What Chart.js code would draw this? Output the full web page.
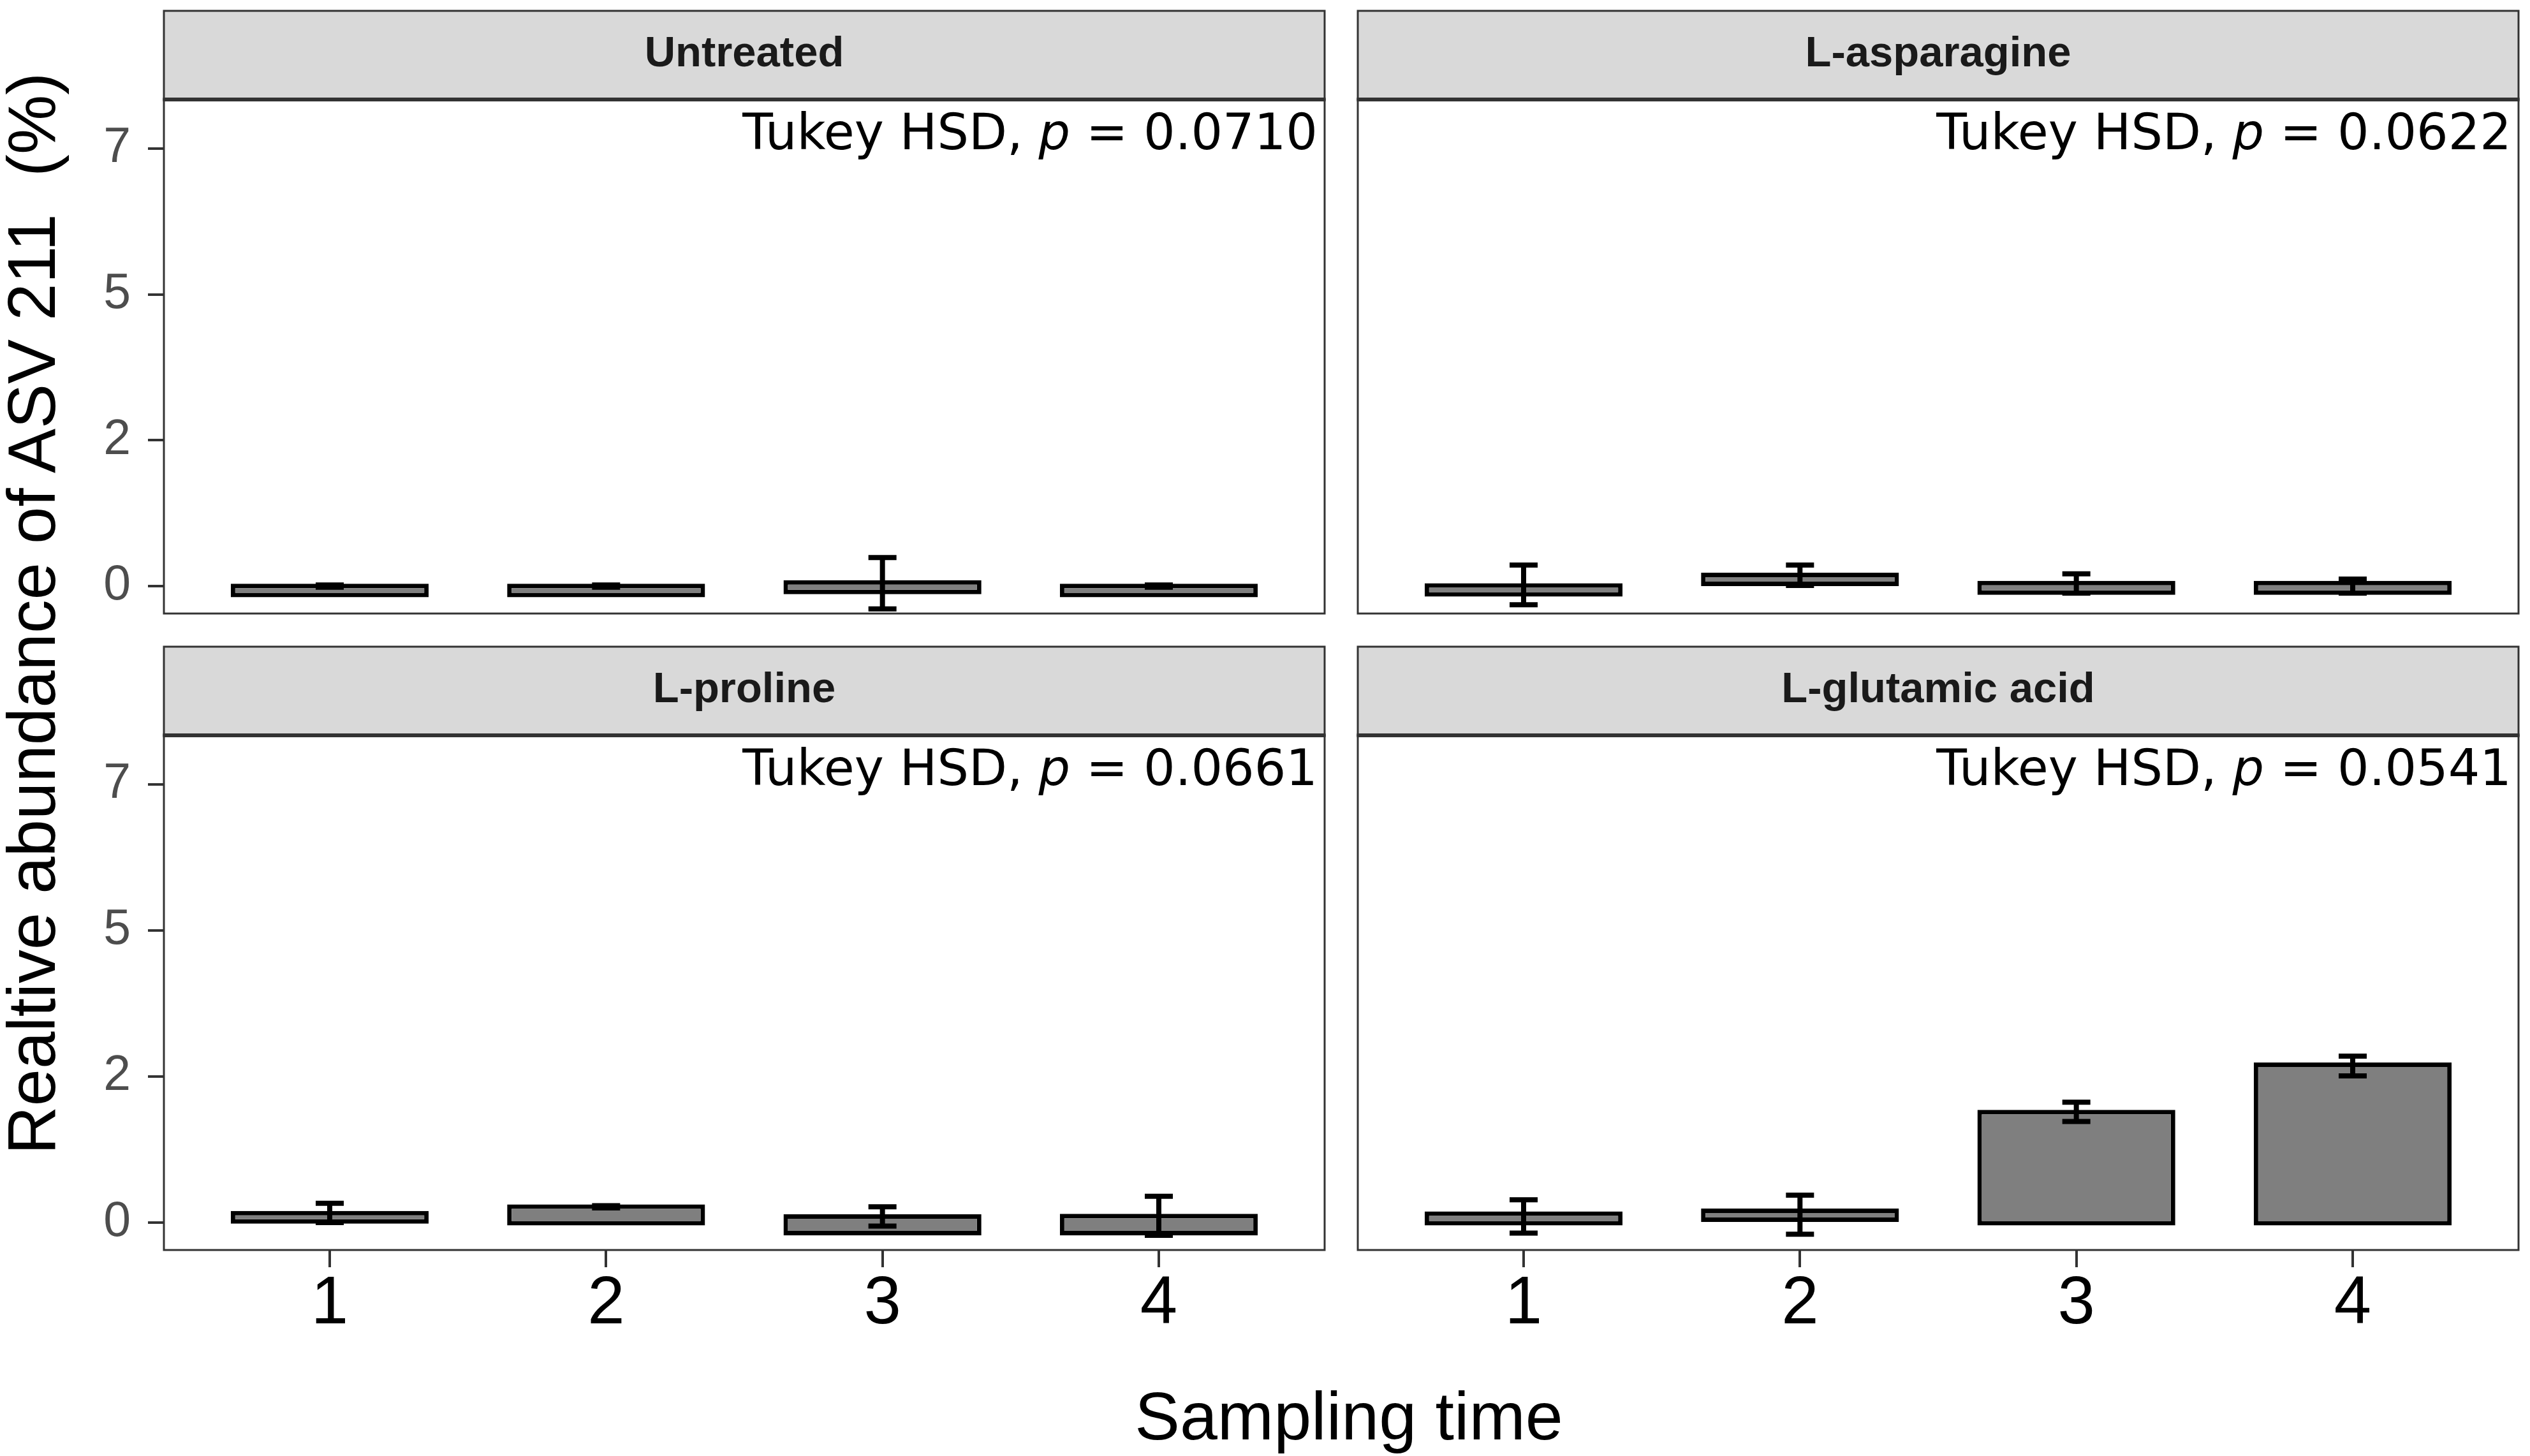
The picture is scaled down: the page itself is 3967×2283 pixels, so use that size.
<!DOCTYPE html>
<html>
<head>
<meta charset="utf-8">
<title>Relative abundance of ASV 211</title>
<script src="https://cdn.jsdelivr.net/npm/chart.js@4.4.1/dist/chart.umd.min.js"></script>
<style>
  html, body { margin: 0; padding: 0; background: #fff; }
  #figure { position: relative; width: 3967px; height: 2283px; background: #fff; overflow: hidden;
            font-family: 'Liberation Sans', Arial, sans-serif; color: #000; }
  #figure canvas { position: absolute; }
  #y-title { position: absolute; left: 49px; top: 962px; transform: translate(-50%, -50%) rotate(-90deg);
             font-size: 105px; line-height: 1; white-space: pre; }
  #x-title { position: absolute; left: 2115px; top: 2167px; transform: translateX(-50%);
             font-size: 106px; line-height: 1; white-space: pre; }
</style>
</head>
<body>
<div id="figure">
  <div id="y-title">Realtive abundance of ASV 211  (%)</div>
  <div id="x-title">Sampling time</div>
</div>
<script>
'use strict';

// Sampling times on the x axis
const times = [1, 2, 3, 4];

// The y ticks sit at 0, 2.5, 5 and 7.5, the figure prints them rounded down
const yTickValues = [0, 2.5, 5, 7.5];
const yTickLabels = ['0', '2', '5', '7'];

// Facet names and their Tukey HSD p values
const treatments = ['Untreated', 'L-asparagine', 'L-proline', 'L-glutamic acid'];
const pValues = ['0.0710', '0.0622', '0.0661', '0.0541'];

// Bars float in the original: lower and upper edge of every bar (%)
const untreatedLow = [-0.19, -0.19, -0.14, -0.19];
const untreatedHigh = [0.04, 0.04, 0.10, 0.04];
const asparagineLow = [-0.18, 0.00, -0.15, -0.15];
const asparagineHigh = [0.05, 0.23, 0.09, 0.09];
const prolineLow = [-0.02, -0.05, -0.22, -0.22];
const prolineHigh = [0.20, 0.31, 0.14, 0.15];
const glutamicLow = [-0.05, 0.01, -0.05, -0.05];
const glutamicHigh = [0.19, 0.24, 1.93, 2.74];

// Error bar ends (%)
const untreatedErrLow = [-0.02, -0.02, -0.39, -0.02];
const untreatedErrHigh = [0.02, 0.02, 0.49, 0.02];
const asparagineErrLow = [-0.32, 0.01, -0.12, -0.12];
const asparagineErrHigh = [0.36, 0.36, 0.21, 0.12];
const prolineErrLow = [0.00, 0.25, -0.06, -0.22];
const prolineErrHigh = [0.33, 0.29, 0.27, 0.45];
const glutamicErrLow = [-0.18, -0.20, 1.73, 2.51];
const glutamicErrHigh = [0.39, 0.47, 2.06, 2.85];

const barLows = [untreatedLow, asparagineLow, prolineLow, glutamicLow];
const barHighs = [untreatedHigh, asparagineHigh, prolineHigh, glutamicHigh];
const errLows = [untreatedErrLow, asparagineErrLow, prolineErrLow, glutamicErrLow];
const errHighs = [untreatedErrHigh, asparagineErrHigh, prolineErrHigh, glutamicErrHigh];

const FONT = "'Liberation Sans', Arial, sans-serif";
const STRIP_HEIGHT = 139;

// Where each facet canvas goes on the page (top row has no x axis, right column no y axis)
const panelBoxes = [
    {left: 0,    top: 0,   width: 2090, height: 975,  padding: {left: 0,  top: 156, right: 13, bottom: 13}, yAxis: true,  xAxis: false},
    {left: 2116, top: 0,   width: 1851, height: 975,  padding: {left: 13, top: 156, right: 18, bottom: 13}, yAxis: false, xAxis: false},
    {left: 0,    top: 997, width: 2090, height: 1286, padding: {left: 0,  top: 156, right: 13, bottom: 0},  yAxis: true,  xAxis: true},
    {left: 2116, top: 997, width: 1851, height: 1286, padding: {left: 13, top: 156, right: 18, bottom: 0},  yAxis: false, xAxis: true}
];

// Draws the error bars, the panel border, the grey strip and the p value note
function facetPlugin(index) {
    return {
        id: 'facet' + index,
        afterDatasetsDraw(chart) {
            const ctx = chart.ctx;
            const xScale = chart.scales.x;
            const yScale = chart.scales.y;
            ctx.save();
            ctx.strokeStyle = '#000';
            ctx.lineWidth = 8;
            ctx.lineCap = 'butt';
            times.forEach((t, j) => {
                const x = xScale.getPixelForValue(t);
                const yLo = yScale.getPixelForValue(errLows[index][j]);
                const yHi = yScale.getPixelForValue(errHighs[index][j]);
                ctx.beginPath();
                ctx.moveTo(x, yLo);
                ctx.lineTo(x, yHi);
                ctx.moveTo(x - 22, yLo);
                ctx.lineTo(x + 22, yLo);
                ctx.moveTo(x - 22, yHi);
                ctx.lineTo(x + 22, yHi);
                ctx.stroke();
            });
            ctx.restore();
        },
        afterDraw(chart) {
            const ctx = chart.ctx;
            const area = chart.chartArea;
            const stripTop = area.top - STRIP_HEIGHT;
            ctx.save();

            // panel border
            ctx.strokeStyle = '#333333';
            ctx.lineWidth = 3;
            ctx.strokeRect(area.left, area.top, area.right - area.left, area.bottom - area.top);

            // strip
            ctx.fillStyle = '#d9d9d9';
            ctx.fillRect(area.left, stripTop, area.right - area.left, STRIP_HEIGHT);
            ctx.strokeRect(area.left, stripTop, area.right - area.left, STRIP_HEIGHT);
            ctx.lineWidth = 6;
            ctx.beginPath();
            ctx.moveTo(area.left - 1.5, area.top);
            ctx.lineTo(area.right + 1.5, area.top);
            ctx.stroke();

            ctx.fillStyle = '#1a1a1a';
            ctx.font = 'bold 67px ' + FONT;
            ctx.textAlign = 'center';
            ctx.textBaseline = 'alphabetic';
            ctx.fillText(treatments[index], (area.left + area.right) / 2, stripTop + 87);

            // Tukey HSD note, right aligned, with an italic p
            const pre = 'Tukey HSD, ';
            const post = ' = ' + pValues[index];
            const plain = "78px 'DejaVu Sans', sans-serif";
            const italic = "italic 78px 'DejaVu Sans', sans-serif";
            ctx.font = plain;
            const wPre = ctx.measureText(pre).width;
            const wPost = ctx.measureText(post).width;
            ctx.font = italic;
            const wP = ctx.measureText('p').width;
            let x = area.right - 11 - (wPre + wP + wPost);
            const base = area.top + 78;
            ctx.fillStyle = '#000';
            ctx.textAlign = 'left';
            ctx.font = plain;
            ctx.fillText(pre, x, base);
            x += wPre;
            ctx.font = italic;
            ctx.fillText('p', x, base);
            x += wP;
            ctx.font = plain;
            ctx.fillText(post, x, base);
            ctx.restore();
        }
    };
}

function buildChart(index) {
    const box = panelBoxes[index];
    const canvas = document.createElement('canvas');
    canvas.width = box.width;
    canvas.height = box.height;
    canvas.style.left = box.left + 'px';
    canvas.style.top = box.top + 'px';
    canvas.style.width = box.width + 'px';
    canvas.style.height = box.height + 'px';
    document.getElementById('figure').appendChild(canvas);

    const points = times.map((t, j) => ({x: t, y: [barLows[index][j], barHighs[index][j]]}));

    return new Chart(canvas.getContext('2d'), {
        type: 'bar',
        data: {
            datasets: [{
                data: points,
                backgroundColor: '#7f7f7f',
                borderColor: '#000000',
                borderWidth: 7,
                borderSkipped: false,
                barPercentage: 0.716,
                categoryPercentage: 1.0
            }]
        },
        options: {
            responsive: false,
            maintainAspectRatio: false,
            animation: false,
            layout: {padding: box.padding},
            plugins: {
                legend: {display: false},
                tooltip: {enabled: false},
                title: {display: false}
            },
            scales: {
                x: {
                    type: 'linear',
                    min: 0.4,
                    max: 4.6,
                    offset: false,
                    display: box.xAxis,
                    afterBuildTicks: (axis) => { axis.ticks = times.map(v => ({value: v})); },
                    afterFit: (scale) => {
                        scale.height = box.xAxis ? 323 : 0;
                        scale.paddingLeft = 0;
                        scale.paddingRight = 0;
                    },
                    ticks: {
                        autoSkip: false,
                        maxRotation: 0,
                        padding: 1,
                        color: '#000',
                        font: {family: FONT, size: 105, lineHeight: 1.1},
                        callback: (v) => String(v)
                    },
                    grid: {offset: false, drawOnChartArea: false, drawTicks: true, tickLength: 27, color: '#333333', lineWidth: 4},
                    border: {display: false}
                },
                y: {
                    min: -0.47,
                    max: 8.34,
                    display: box.yAxis,
                    afterBuildTicks: (axis) => { axis.ticks = yTickValues.map(v => ({value: v})); },
                    afterFit: (scale) => {
                        scale.width = box.yAxis ? 257 : 0;
                        scale.paddingTop = 0;
                        scale.paddingBottom = 0;
                    },
                    ticks: {
                        padding: 27,
                        color: '#4d4d4d',
                        font: {family: FONT, size: 77},
                        callback: (v) => yTickLabels[yTickValues.indexOf(v)]
                    },
                    grid: {drawOnChartArea: false, drawTicks: true, tickLength: 25, color: '#333333', lineWidth: 4},
                    border: {display: false}
                }
            }
        },
        plugins: [facetPlugin(index)]
    });
}

treatments.forEach((name, i) => buildChart(i));
</script>
</body>
</html>
